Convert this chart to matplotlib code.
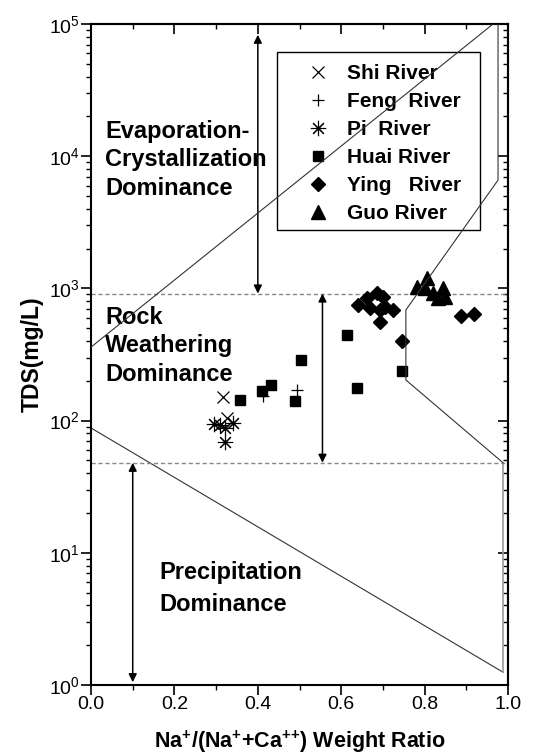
import matplotlib
matplotlib.use('Agg')
import matplotlib.pyplot as plt
from matplotlib.patches import Rectangle
from matplotlib.ticker import MultipleLocator, LogLocator, NullFormatter, FormatStrFormatter

plt.rcParams['font.family'] = ['Liberation Sans', 'DejaVu Sans']
plt.rcParams['mathtext.fontset'] = 'custom'
plt.rcParams['mathtext.rm'] = 'Liberation Sans'
plt.rcParams['mathtext.bf'] = 'Liberation Sans:bold'

# sample data
shi_x = [0.317, 0.326]
shi_y = [151, 104]
feng_x = [0.412, 0.494]
feng_y = [153, 170]
pi_x = [0.295, 0.309, 0.321, 0.341, 0.321]
pi_y = [94, 93, 88, 96, 69]
huai_x = [0.357, 0.410, 0.432, 0.489, 0.504, 0.614, 0.638, 0.746]
huai_y = [143, 168, 186, 141, 287, 444, 176, 237]
ying_x = [0.640, 0.662, 0.686, 0.700, 0.669, 0.693, 0.705, 0.724, 0.693, 0.746, 0.887, 0.918]
ying_y = [749, 846, 922, 861, 711, 687, 723, 687, 557, 400, 618, 640]
guo_x = [0.782, 0.806, 0.801, 0.820, 0.844, 0.832, 0.849]
guo_y = [1025, 1200, 1007, 923, 1007, 846, 861]

# Gibbs boomerang outline
upper_x = [0.0, 0.964]
upper_y = [360, 1e5]
right_x = [0.976, 0.976, 0.755, 0.755, 0.988]
right_y = [1e5, 6600, 687, 203, 48]
edge_x = [0.988, 0.988]
edge_y = [48, 1.25]
lower_x = [0.988, 0.0]
lower_y = [1.25, 88]
evap_line = 915
prec_line = 48

fig = plt.figure(figsize=(5.49, 7.56), dpi=100)
ax = fig.add_axes([0.1658, 0.0939, 0.7596, 0.8743])
ax.set_yscale('log')
ax.set_xlim(0, 1)
ax.set_ylim(1, 1e5)

lc = '#333333'
ax.plot(upper_x, upper_y, color=lc, lw=0.8, zorder=6)
ax.plot(right_x, right_y, color=lc, lw=0.8, zorder=6)
ax.plot(lower_x, lower_y, color=lc, lw=0.8)
ax.plot(edge_x, edge_y, color='#999999', lw=1.2)
ax.plot([0, 0.993], [evap_line, evap_line], color='#888888', lw=1, ls=(0, (3, 2)))
ax.plot([0, 0.993], [prec_line, prec_line], color='#888888', lw=1, ls=(0, (3, 2)))

ap = dict(arrowstyle='<|-|>', color='k', lw=1.1, mutation_scale=12, shrinkA=0, shrinkB=0)
ax.annotate('', xy=(0.4, 83000), xytext=(0.4, evap_line), arrowprops=ap)
ax.annotate('', xy=(0.555, evap_line), xytext=(0.555, prec_line), arrowprops=ap)
ax.annotate('', xy=(0.1, prec_line), xytext=(0.1, 1.05), arrowprops=ap)

ax.plot(shi_x, shi_y, ls='none', marker='x', ms=9, mew=0.9, color='k', label='Shi River')
ax.plot(feng_x, feng_y, ls='none', marker='+', ms=9, mew=0.9, color='k', label='Feng  River')
ax.plot(pi_x, pi_y, ls='none', marker=(8, 2, 0), ms=11, mew=0.8, color='k', label='Pi  River')
ax.plot(huai_x, huai_y, ls='none', marker='s', ms=7.5, color='k', label='Huai River')
ax.plot(ying_x, ying_y, ls='none', marker='D', ms=7.5, color='k', label='Ying   River')
ax.plot(guo_x, guo_y, ls='none', marker='^', ms=10, color='k', label='Guo River')

# legend box drawn separately, legend itself without frame
ax.add_patch(Rectangle((0.446, 0.688), 0.487, 0.27, transform=ax.transAxes,
                       fill=False, edgecolor='k', lw=1.0, zorder=4))
leg = ax.legend(loc='upper left', bbox_to_anchor=(0.460, 0.974),
                prop={'weight': 'bold', 'size': 15}, frameon=False,
                labelspacing=0.43, handletextpad=0.8, borderpad=0.6, handlelength=1.2)
leg.set_zorder(5)

tf = dict(fontsize=17, fontweight='bold', linespacing=1.32, va='center', ha='left')
ax.text(0.034, 9400, 'Evaporation-\nCrystallization\nDominance', **tf)
ax.text(0.034, 367, 'Rock\nWeathering\nDominance', **tf)
tf['linespacing'] = 1.5
ax.text(0.165, 5.4, 'Precipitation\nDominance', **tf)

ax.set_xlabel(r'Na$^{\mathbf{+}}$/(Na$^{\mathbf{+}}$+Ca$^{\mathbf{+}\mathbf{+}}$) Weight Ratio',
              fontsize=15.5, fontweight='bold', labelpad=11)
ax.set_ylabel('TDS(mg/L)', fontsize=16.5, fontweight='bold', labelpad=4)

ax.xaxis.set_major_locator(MultipleLocator(0.2))
ax.xaxis.set_minor_locator(MultipleLocator(0.1))
ax.yaxis.set_major_locator(LogLocator(base=10, numticks=10))
ax.yaxis.set_minor_locator(LogLocator(base=10, subs=range(2, 10), numticks=10))
ax.yaxis.set_minor_formatter(NullFormatter())
ax.xaxis.set_major_formatter(FormatStrFormatter('%.1f'))
ax.tick_params(which='major', direction='out', length=7, width=1.2, labelsize=14, pad=1)
ax.tick_params(which='minor', direction='out', length=3.5, width=1.0)

top = ax.secondary_xaxis('top')
top.xaxis.set_major_locator(MultipleLocator(0.2))
top.xaxis.set_minor_locator(MultipleLocator(0.1))
top.tick_params(which='major', direction='in', length=7, width=1.2, labeltop=False)
top.tick_params(which='minor', direction='in', length=3.5, width=1.0)
right = ax.secondary_yaxis('right')
right.yaxis.set_major_locator(LogLocator(base=10, numticks=10))
right.yaxis.set_minor_locator(LogLocator(base=10, subs=range(2, 10), numticks=10))
right.yaxis.set_minor_formatter(NullFormatter())
right.tick_params(which='major', direction='in', length=7, width=1.2, labelright=False)
right.tick_params(which='minor', direction='in', length=3.5, width=1.0)
for s in list(ax.spines.values()) + [top.spines['top'], right.spines['right']]:
    s.set_linewidth(1.5)

fig.savefig('out.png', dpi=100)
